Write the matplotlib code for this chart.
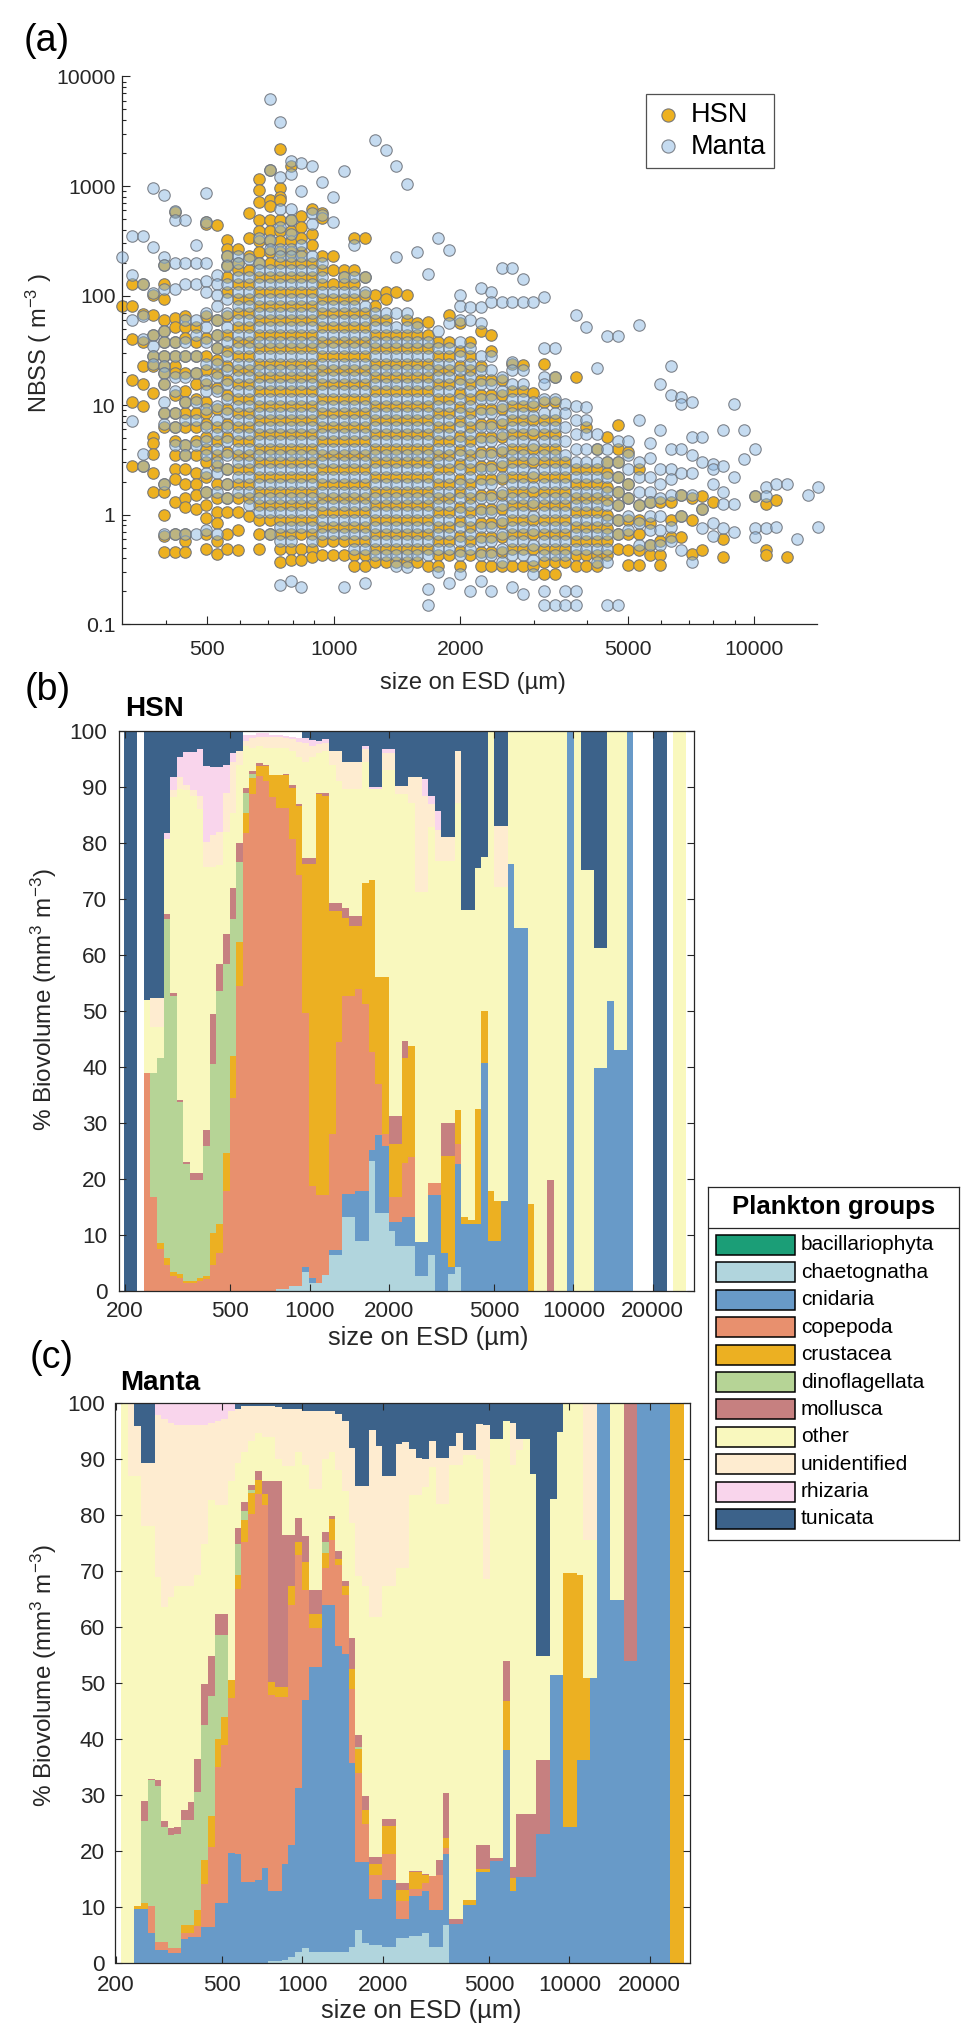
import numpy as np
import matplotlib.pyplot as plt
from matplotlib.patches import Rectangle
from matplotlib.ticker import LogLocator, NullFormatter, NullLocator

plt.rcParams['font.family'] = ['Liberation Sans', 'DejaVu Sans']
plt.rcParams['mathtext.fontset'] = 'custom'
plt.rcParams['mathtext.rm'] = 'Liberation Sans'
plt.rcParams['mathtext.default'] = 'regular'

W, H = 979, 2041
INK = '#262626'

# size classes (ESD, um): lower edges of the 86 bins + last upper edge
size_edges = [198, 209, 222, 235, 249, 264, 280, 296, 314, 332,
              352, 373, 395, 419, 444, 470, 498, 528, 559, 592,
              628, 665, 705, 746, 791, 838, 888, 940, 996, 1056,
              1118, 1185, 1255, 1330, 1409, 1493, 1582, 1676, 1775, 1881,
              1993, 2111, 2237, 2370, 2511, 2660, 2818, 2986, 3163, 3351,
              3551, 3762, 3986, 4223, 4474, 4740, 5022, 5320, 5637, 5972,
              6327, 6703, 7102, 7524, 7971, 8445, 8948, 9480, 10044, 10641,
              11274, 11944, 12654, 13407, 14204, 15049, 15943, 16892, 17896, 18960,
              20088, 21282, 22548, 23889, 25306, 26810, 28404]

# ---- panel (a): NBSS per size class, one list per class (classes start at size_edges[8])
hsn_nbss = [
    [80],
    [129, 80, 40, 16.8, 10.7, 2.8],
    [129, 68, 38, 23, 15.6, 9.9, 2.8],
    [102, 66, 44, 28, 23, 12.9, 5.1, 4.5, 3.6, 2.4, 1.6],
    [192, 129, 94, 60, 48, 38, 28, 23, 19.5, 15.6, 8.5, 6.3, 1.9, 1.6, 1.0, 0.64, 0.46],
    [583, 62, 52, 38, 28, 23, 19.5, 12.4, 8.5, 6.3, 4.7, 3.5, 2.6, 2.1, 1.31, 0.67, 0.46],
    [65, 52, 41, 28, 19.5, 13.4, 10.7, 8.5, 6.3, 4.3, 3.5, 2.6, 1.9, 1.41, 1.17, 0.67, 0.57, 0.46],
    [52, 38, 28, 19.5, 15.6, 11.5, 8.5, 6.3, 4.7, 3.5, 2.4, 1.9, 1.5, 1.13],
    [472, 455, 65, 41, 28, 21, 15.6, 10.7, 8.5, 6.8, 5.1, 4.0, 3.0, 2.2, 1.6, 1.22, 0.94, 0.67, 0.49],
    [438, 60, 44, 33, 26, 19.5, 14.4, 9.2, 6.3, 4.7, 3.5, 2.8, 1.9, 1.41, 1.05, 0.84, 0.57, 0.44],
    [324, 269, 232, 192, 148, 109, 65, 44, 31, 23, 16.8, 12.4, 9.2, 6.8, 5.1, 3.7, 2.6, 1.9, 1.41, 1.05, 0.67, 0.49],
    [269, 199, 172, 127, 94, 70, 52, 38, 28, 21, 15.6, 11.5, 8.5, 6.3, 4.7, 3.5, 2.6, 1.9, 1.41, 1.05, 0.72, 0.48],
    [570, 337, 232, 172, 127, 94, 70, 52, 38, 28, 21, 15.6, 11.5, 8.5, 6.3, 4.7, 3.5, 2.6, 1.9, 1.41, 0.97],
    [1160, 928, 713, 491, 392, 313, 250, 199, 148, 109, 81, 60, 44, 33, 24, 18, 13.4, 9.9, 7.4, 5.4, 4.0, 3.0, 2.2, 1.6, 1.22, 0.90, 0.67, 0.49],
    [1400, 741, 662, 491, 392, 313, 250, 199, 148, 109, 81, 60, 44, 33, 24, 18, 13.4, 9.9, 7.4, 5.4, 4.0, 3.0, 2.2, 1.6, 1.22, 0.90, 0.67],
    [2200, 963, 798, 741, 491, 392, 313, 250, 199, 148, 109, 81, 60, 44, 33, 24, 18, 13.4, 9.9, 7.4, 5.4, 4.0, 3.0, 2.2, 1.6, 1.22, 0.90, 0.67, 0.49, 0.37],
    [1510, 491, 392, 313, 250, 199, 148, 109, 81, 60, 44, 33, 24, 18, 13.4, 9.9, 7.4, 5.4, 4.0, 3.0, 2.2, 1.6, 1.22, 0.90, 0.67, 0.49, 0.39],
    [528, 422, 337, 250, 199, 148, 109, 81, 60, 44, 33, 24, 18, 13.4, 9.9, 7.4, 5.4, 4.0, 3.0, 2.2, 1.6, 1.22, 0.90, 0.67, 0.49, 0.39],
    [614, 363, 290, 199, 148, 109, 81, 60, 44, 33, 24, 18, 13.4, 9.9, 7.4, 5.4, 4.0, 3.0, 2.2, 1.6, 1.22, 0.90, 0.67, 0.49, 0.41],
    [570, 509, 232, 172, 127, 94, 70, 52, 38, 28, 21, 15.6, 11.5, 8.5, 6.3, 4.7, 3.5, 2.6, 1.9, 1.41, 1.05, 0.78, 0.57, 0.43],
    [232, 172, 127, 94, 70, 52, 38, 28, 21, 15.6, 11.5, 8.5, 6.3, 4.7, 3.5, 2.6, 1.9, 1.41, 1.05, 0.78, 0.57, 0.43],
    [172, 148, 127, 94, 70, 52, 38, 28, 21, 15.6, 11.5, 8.5, 6.3, 4.7, 3.5, 2.6, 1.9, 1.41, 1.05, 0.78, 0.57, 0.43],
    [337, 172, 127, 94, 70, 52, 38, 28, 21, 15.6, 11.5, 8.5, 6.3, 4.7, 3.5, 2.6, 1.9, 1.41, 1.05, 0.78, 0.57, 0.43, 0.34],
    [337, 148, 102, 70, 52, 38, 28, 21, 15.6, 11.5, 8.5, 6.3, 4.7, 3.5, 2.6, 1.9, 1.41, 1.05, 0.78, 0.57, 0.43, 0.34],
    [102, 81, 60, 44, 33, 24, 18, 13.4, 9.9, 7.4, 5.4, 4.0, 3.0, 2.2, 1.6, 1.22, 0.90, 0.67, 0.49, 0.37],
    [109, 94, 60, 44, 33, 24, 18, 13.4, 9.9, 7.4, 5.4, 4.0, 3.0, 2.2, 1.6, 1.22, 0.90, 0.67, 0.49, 0.37],
    [109, 44, 33, 24, 18, 13.4, 9.9, 7.4, 5.4, 4.0, 3.0, 2.2, 1.6, 1.22, 0.90, 0.67, 0.49, 0.37],
    [102, 60, 44, 33, 24, 18, 13.4, 9.9, 7.4, 5.4, 4.0, 3.0, 2.2, 1.6, 1.22, 0.90, 0.67, 0.49, 0.37],
    [56, 44, 33, 24, 18, 13.4, 9.9, 7.4, 5.4, 4.0, 3.0, 2.2, 1.6, 1.22, 0.90, 0.67, 0.49, 0.37],
    [58, 44, 33, 24, 18, 13.4, 9.9, 7.4, 5.4, 4.0, 3.0, 2.2, 1.6, 1.22, 0.90, 0.67, 0.49, 0.34],
    [38, 28, 21, 15.6, 11.5, 8.5, 6.3, 4.7, 3.5, 2.6, 1.9, 1.41, 1.05, 0.78, 0.57, 0.43, 0.34],
    [67, 38, 28, 21, 15.6, 11.5, 8.5, 6.3, 4.7, 3.5, 2.6, 1.9, 1.41, 1.05, 0.78, 0.57, 0.43],
    [56, 31, 23, 17.4, 12.9, 9.6, 7.1, 5.2, 3.9, 2.9, 2.1, 1.6, 1.17, 0.87, 0.64, 0.47, 0.34],
    [38, 28, 21, 15.6, 11.5, 8.5, 6.3, 4.7, 3.5, 2.6, 1.9, 1.41, 1.05, 0.78, 0.57, 0.43],
    [48, 23, 16.8, 12.4, 9.2, 6.8, 5.1, 3.7, 2.8, 2.1, 1.5, 1.13, 0.84, 0.62, 0.46, 0.34],
    [44, 31, 16.8, 12.4, 9.2, 6.8, 5.1, 3.7, 2.8, 2.1, 1.5, 1.13, 0.84, 0.62, 0.46, 0.34],
    [16.8, 12.4, 9.2, 6.8, 5.1, 3.7, 2.8, 2.1, 1.5, 1.13, 0.84, 0.62, 0.46, 0.34],
    [24, 13.4, 9.9, 7.4, 5.4, 4.0, 3.0, 2.2, 1.6, 1.22, 0.90, 0.67, 0.49, 0.34],
    [23.5, 13.4, 9.9, 7.4, 5.4, 4.0, 3.0, 2.2, 1.6, 1.22, 0.90, 0.67, 0.49, 0.34],
    [12.9, 9.9, 7.4, 5.4, 4.0, 3.0, 2.2, 1.6, 1.22, 0.90, 0.67, 0.49, 0.34],
    [24, 10.7, 7.4, 5.4, 4.0, 3.0, 2.2, 1.6, 1.22, 0.90, 0.67, 0.49, 0.37, 0.29],
    [18, 10.7, 7.4, 5.4, 4.0, 3.0, 2.2, 1.6, 1.22, 0.90, 0.67, 0.49, 0.37, 0.29],
    [3.0, 2.2, 1.6, 1.22, 0.90, 0.67, 0.49, 0.37],
    [18, 2.6, 1.9, 1.41, 1.05, 0.78, 0.57, 0.43, 0.34],
    [6.3, 2.6, 1.9, 1.41, 1.05, 0.78, 0.57, 0.43, 0.34],
    [4.0, 2.6, 1.9, 1.41, 1.05, 0.78, 0.57, 0.43, 0.34],
    [5.1, 3.0, 2.4, 1.8, 1.36, 1.0, 0.75, 0.57, 0.43],
    [6.6, 4.0, 3.0, 2.2, 1.6, 1.22, 0.90, 0.67, 0.49],
    [3.7, 1.9, 1.41, 0.90, 0.67, 0.48, 0.35],
    [2.6, 1.22, 0.90, 0.67, 0.48, 0.35],
    [1.31, 0.84, 0.53, 0.43],
    [1.31, 0.57, 0.43, 0.35],
    [1.31, 0.90, 0.62],
    [1.5, 0.97, 0.62],
    [1.41, 0.90, 0.44],
    [1.47, 1.13, 0.48],
    [1.31],
    [0.60, 0.41],
    [],
    [],
    [1.47],
    [1.26, 0.48, 0.43],
    [1.36],
    [0.41],
    [],
    [],
    [],
]

manta_nbss = [
    [223],
    [350, 153, 60, 7.1],
    [350, 129, 65, 40, 3.6, 2.8],
    [963, 275, 105, 44, 35, 28, 24],
    [829, 223, 192, 114, 48, 38, 28, 23, 19.5, 15.6, 10.7, 8.5, 6.8, 1.9, 0.67],
    [592, 491, 199, 114, 38, 28, 18, 13.4, 8.5, 6.3, 4.3, 0.67],
    [491, 199, 127, 60, 38, 28, 18, 10.7, 7.4, 4.3, 3.5, 0.67],
    [290, 199, 127, 60, 44, 28, 19.5, 10.7, 7.4, 4.3, 0.67],
    [861, 472, 199, 137, 109, 70, 52, 38, 24, 16.8, 13.4, 9.2, 6.3, 4.7, 3.5, 2.4, 1.6, 0.72],
    [153, 127, 102, 81, 60, 44, 33, 24, 18, 13.4, 9.9, 7.4, 5.4, 4.0, 3.0, 2.4, 1.6, 0.67],
    [232, 185, 127, 94, 70, 52, 38, 28, 21, 15.6, 11.5, 8.5, 6.3, 4.7, 3.5, 2.6, 1.9, 1.41],
    [232, 199, 148, 109, 81, 60, 44, 33, 24, 18, 13.4, 9.9, 7.4, 5.4, 4.0, 3.0, 2.2, 1.6],
    [215, 148, 109, 81, 60, 44, 33, 24, 18, 13.4, 9.9, 7.4, 5.4, 4.0, 3.0, 2.2, 1.6, 1.22],
    [337, 199, 172, 127, 94, 70, 52, 38, 28, 21, 15.6, 11.5, 8.5, 6.3, 4.7, 3.5, 2.6, 1.9, 1.41, 1.05],
    [6280, 1400, 324, 269, 172, 127, 94, 70, 52, 38, 28, 21, 15.6, 11.5, 8.5, 6.3, 4.7, 3.5, 2.6, 1.9, 1.41, 1.05, 0.67],
    [3860, 1210, 614, 422, 269, 232, 172, 127, 94, 70, 52, 38, 28, 21, 15.6, 11.5, 8.5, 6.3, 4.7, 3.5, 2.6, 1.9, 1.41, 1.05, 0.78, 0.57, 0.23],
    [1690, 1300, 614, 491, 363, 269, 232, 172, 127, 94, 70, 52, 38, 28, 21, 15.6, 11.5, 8.5, 6.3, 4.7, 3.5, 2.6, 1.9, 1.41, 1.05, 0.78, 0.57, 0.25],
    [1630, 893, 290, 232, 172, 127, 94, 70, 52, 38, 28, 21, 15.6, 11.5, 8.5, 6.3, 4.7, 3.5, 2.6, 1.9, 1.41, 1.05, 0.78, 0.22],
    [1510, 570, 455, 232, 172, 127, 94, 70, 52, 38, 28, 21, 15.6, 11.5, 8.5, 6.3, 4.7, 3.5, 2.6, 1.9, 1.41, 1.05, 0.78, 0.57],
    [1080, 548, 199, 148, 109, 81, 60, 44, 33, 24, 18, 13.4, 9.9, 7.4, 5.4, 4.0, 3.0, 2.2, 1.6, 1.22, 0.90, 0.67],
    [798, 472, 109, 81, 60, 44, 33, 24, 18, 13.4, 9.9, 7.4, 5.4, 4.0, 3.0, 2.2, 1.6, 1.22, 0.90, 0.67],
    [1380, 148, 109, 81, 60, 44, 33, 24, 18, 13.4, 9.9, 7.4, 5.4, 4.0, 3.0, 2.2, 1.6, 1.22, 0.90, 0.67, 0.22],
    [290, 148, 109, 81, 60, 44, 33, 24, 18, 13.4, 9.9, 7.4, 5.4, 4.0, 3.0, 2.2, 1.6, 1.22, 0.90, 0.67, 0.49],
    [148, 109, 81, 60, 44, 33, 24, 18, 13.4, 9.9, 7.4, 5.4, 4.0, 3.0, 2.2, 1.6, 1.22, 0.90, 0.67, 0.49, 0.24],
    [2650, 70, 52, 38, 28, 21, 15.6, 11.5, 8.5, 6.3, 4.7, 3.5, 2.6, 1.9, 1.41, 1.05, 0.78, 0.57, 0.43],
    [2120, 70, 52, 38, 28, 21, 15.6, 11.5, 8.5, 6.3, 4.7, 3.5, 2.6, 1.9, 1.41, 1.05, 0.78, 0.57, 0.43],
    [1510, 223, 70, 52, 38, 28, 21, 15.6, 11.5, 8.5, 6.3, 4.7, 3.5, 2.6, 1.9, 1.41, 1.05, 0.78, 0.57, 0.43, 0.34],
    [1040, 70, 52, 38, 28, 21, 15.6, 11.5, 8.5, 6.3, 4.7, 3.5, 2.6, 1.9, 1.41, 1.05, 0.78, 0.57, 0.43, 0.33],
    [250, 52, 38, 28, 21, 15.6, 11.5, 8.5, 6.3, 4.7, 3.5, 2.6, 1.9, 1.41, 1.05, 0.78, 0.57, 0.43],
    [159, 38, 28, 21, 15.6, 11.5, 8.5, 6.3, 4.7, 3.5, 2.6, 1.9, 1.41, 1.05, 0.78, 0.57, 0.43, 0.21, 0.15],
    [337, 48, 33, 24, 18, 13.4, 9.9, 7.4, 5.4, 4.0, 3.0, 2.2, 1.6, 1.22, 0.90, 0.67, 0.49, 0.30],
    [259, 56, 33, 24, 18, 13.4, 9.9, 7.4, 5.4, 4.0, 3.0, 2.2, 1.6, 1.22, 0.90, 0.67, 0.49, 0.24],
    [102, 81, 60, 38, 28, 21, 15.6, 11.5, 8.5, 6.3, 4.7, 3.5, 2.6, 1.9, 1.41, 1.05, 0.78, 0.57, 0.43, 0.29],
    [78, 60, 33, 24, 18, 13.4, 9.9, 7.4, 5.4, 4.0, 3.0, 2.2, 1.6, 1.22, 0.90, 0.67, 0.49, 0.20],
    [118, 78, 56, 28, 21, 15.6, 11.5, 8.5, 6.3, 4.7, 3.5, 2.6, 1.9, 1.41, 1.05, 0.78, 0.57, 0.43, 0.25],
    [109, 87, 28, 21, 15.6, 11.5, 8.5, 6.3, 4.7, 3.5, 2.6, 1.9, 1.41, 1.05, 0.78, 0.57, 0.43, 0.20],
    [178, 87, 18, 13.4, 9.9, 7.4, 5.4, 4.0, 3.0, 2.2, 1.6, 1.22, 0.90, 0.67, 0.49, 0.37],
    [178, 87, 25, 21, 15.6, 11.5, 8.5, 6.3, 4.7, 3.5, 2.6, 1.9, 1.41, 1.05, 0.78, 0.57, 0.43, 0.22],
    [142, 87, 21, 15.6, 11.5, 8.5, 6.3, 4.7, 3.5, 2.6, 1.9, 1.41, 1.05, 0.78, 0.57, 0.43, 0.19],
    [87, 10.7, 7.9, 5.9, 4.3, 3.2, 2.4, 1.8, 1.31, 0.97, 0.72, 0.53, 0.39, 0.29],
    [98, 33, 18, 15.6, 11.5, 8.5, 6.3, 4.7, 3.5, 2.6, 1.9, 1.41, 1.05, 0.78, 0.57, 0.43, 0.20, 0.15],
    [33, 18, 11.5, 8.5, 6.3, 4.7, 3.5, 2.6, 1.9, 1.41, 1.05, 0.78, 0.57, 0.43, 0.15],
    [10.3, 8.5, 6.3, 4.7, 3.5, 2.6, 1.9, 1.41, 1.05, 0.78, 0.57, 0.43, 0.20, 0.15],
    [66, 9.9, 7.4, 5.4, 4.0, 3.0, 2.2, 1.6, 1.22, 0.90, 0.67, 0.49, 0.20, 0.15],
    [52, 9.6, 7.4, 5.4, 4.0, 3.0, 2.2, 1.6, 1.22, 0.90, 0.67, 0.49],
    [22, 5.4, 4.0, 3.0, 2.2, 1.6, 1.22, 0.90, 0.67, 0.49, 0.37],
    [43, 4.0, 3.0, 2.2, 1.6, 1.22, 0.90, 0.67, 0.49, 0.37, 0.15],
    [43, 4.7, 3.0, 2.2, 1.6, 1.22, 0.90, 0.67, 0.15],
    [4.7, 3.5, 2.6, 1.9, 1.41, 0.97, 0.72],
    [54, 7.4, 3.0, 2.2, 1.6, 1.22, 0.84, 0.53],
    [4.5, 3.3, 2.2, 1.6, 1.31, 0.97, 0.72, 0.53],
    [15.6, 5.9, 2.6, 1.9, 1.41, 0.97, 0.72, 0.53],
    [23, 12.4, 4.0, 2.6, 2.1, 1.5, 0.78, 0.57],
    [12, 10.3, 4.0, 2.4, 1.5, 0.97, 0.48],
    [10.7, 5.1, 3.5, 2.4, 1.5, 0.37],
    [5.1, 3.0, 1.13, 0.75],
    [2.9, 2.6, 1.9, 0.84, 0.64],
    [5.9, 2.8, 1.6, 1.26, 0.75],
    [10.3, 2.2, 1.26, 0.69],
    [5.9, 3.2],
    [4.0, 1.47, 0.75, 0.62],
    [1.8, 1.47, 0.75],
    [1.9, 0.78],
    [1.9],
    [0.60],
    [1.5],
    [1.8, 0.78],
]

# ---- panels (b) and (c): % biovolume per size bin (86 bins)
group_names = ['bacillariophyta', 'chaetognatha', 'cnidaria', 'copepoda', 'crustacea',
               'dinoflagellata', 'mollusca', 'other', 'unidentified', 'rhizaria', 'tunicata']
group_colors = ['#1B9E77', '#B1D5DD', '#689AC8', '#E8906E', '#ECB022',
                '#B6D496', '#C68080', '#F9F8BE', '#FEECD0', '#F9D5EC', '#3C628A']
# bacillariophyta: no biovolume in either net

hsn_chaetognatha = [
    0, 0, 0, 0, 0, 0, 0, 0, 0, 0,
    0, 0, 0, 0, 0, 0, 0, 0, 0, 0,
    0, 0, 0, 0.4, 0.4, 0.9, 0.9, 3.4, 1.5, 1.5,
    2.8, 6.5, 6.5, 13.3, 13.3, 9.0, 9.0, 23.2, 14, 14,
    10.7, 8, 8, 8, 2.7, 2.7, 6.4, 0, 0, 3,
    4.2, 0, 0, 0, 0, 0, 0, 0, 0, 0,
    0, 0, 0, 0, 0, 0, 0, 0, 0, 0,
    0, 0, 0, 0, 0, 0, 0, 0, 0, 0,
    0, 0, 0, 0, 0, 0]
hsn_cnidaria = [
    0, 0, 0, 0, 0, 0, 0, 0, 0, 0,
    0, 0, 0, 0, 0, 0, 0, 0, 0, 0,
    0, 0, 0, 0, 0, 0, 0, 0.8, 0.9, 0,
    0, 0.8, 0.8, 4.0, 4.0, 8.9, 8.9, 2.0, 13.9, 11.9,
    1.6, 4.3, 5.3, 5.3, 6, 6, 10.7, 17.1, 6.7, 1.2,
    18.4, 12, 12, 12, 40.8, 9.0, 9.0, 16.1, 76.2, 64.9,
    64.9, 0, 0, 0, 0, 0, 0, 100, 0, 0,
    0, 39.8, 39.8, 51.8, 43.1, 43.1, 100, 0, 0, 0,
    0, 0, 0, 0, 0, 0]
hsn_copepoda = [
    0, 0, 0, 39, 16.7, 7.5, 4.7, 2.7, 2.4, 1.5,
    1.5, 1.7, 2.1, 4.7, 6.7, 17.9, 34.5, 54.5, 81.8, 88.7,
    91.9, 91.1, 88.3, 85.9, 85.9, 79.8, 73.4, 45.5, 16.4, 15.6,
    14.3, 20.7, 37.1, 35.4, 35.4, 36, 33.3, 17.4, 9, 2.1,
    4.5, 4.5, 9.6, 10.6, 0, 0, 2.2, 2.2, 0, 0,
    3.6, 0, 0, 0, 0, 0, 0, 0, 0, 0,
    0, 0, 0, 0, 0, 0, 0, 0, 0, 0,
    0, 0, 0, 0, 0, 0, 0, 0, 0, 0,
    0, 0, 0, 0, 0, 0]
hsn_crustacea = [
    0, 0, 0, 0, 0, 1.0, 1.2, 0.7, 0.6, 0.2,
    0.2, 0.7, 0.6, 5.6, 5.3, 6.7, 7.4, 7.8, 3.6, 2.9,
    1.8, 2.6, 3.8, 5.8, 5.8, 9.2, 12.3, 26.6, 57.5, 71.6,
    71.3, 39.9, 23.5, 13.9, 12.4, 11.2, 21.7, 30.8, 19.1, 28,
    9.5, 9.5, 18.7, 19.8, 0, 0, 0, 0, 17.4, 19.9,
    6.1, 1.3, 0.6, 20.5, 9.2, 8.9, 7.1, 0, 0, 0,
    0, 15.6, 0, 0, 0, 0, 0, 0, 0, 0,
    0, 0, 0, 0, 0, 0, 0, 0, 0, 0,
    0, 0, 0, 0, 0, 0]
hsn_dinoflagellata = [
    0, 0, 0, 0, 22.3, 33.1, 60.5, 49.3, 30.7, 20.9,
    18.2, 17.5, 23.2, 30.3, 41.5, 33.8, 24.5, 14.3, 3.5, 0.8,
    0, 0, 0, 0, 0, 0, 0, 0, 0, 0,
    0, 0, 0, 0, 0, 0, 0, 0, 0, 0,
    0, 0, 0, 0, 0, 0, 0, 0, 0, 0,
    0, 0, 0, 0, 0, 0, 0, 0, 0, 0,
    0, 0, 0, 0, 0, 0, 0, 0, 0, 0,
    0, 0, 0, 0, 0, 0, 0, 0, 0, 0,
    0, 0, 0, 0, 0, 0]
hsn_mollusca = [
    0, 0, 0, 0, 0, 0, 1.0, 0.5, 0.4, 0.5,
    1.2, 1.2, 2.8, 8.9, 4.9, 5.4, 5.6, 3.4, 1.0, 0.5,
    0.5, 0.3, 0, 0, 0.3, 0.4, 0.3, 1.0, 1.0, 0.3,
    0.5, 1.3, 1.3, 1.8, 1.8, 1.8, 0, 0, 0, 0,
    5, 5, 3.1, 0, 0, 0, 0, 0, 5.9, 5.9,
    0, 0, 0, 0, 0, 0, 0, 0, 0, 0,
    0, 0, 0, 0, 19.9, 0, 0, 0, 0, 0,
    0, 0, 0, 0, 0, 0, 0, 0, 0, 0,
    0, 0, 0, 0, 0, 0]
hsn_other = [
    0, 0, 0, 12.9, 8.1, 5.5, 13.4, 35.1, 55.6, 66.3,
    67.3, 65.0, 47.1, 26.3, 17.6, 18.2, 13.4, 14, 7.5, 4.1,
    3.2, 3, 4.9, 4.9, 4.6, 6.2, 8.5, 17.2, 18, 7,
    7.6, 24.8, 21.8, 21.2, 22.7, 22.7, 21.5, 16.2, 33.6, 37.1,
    61.8, 57.4, 44, 43.5, 62.5, 62.5, 63.5, 57.4, 46.7, 46.7,
    54.8, 54.7, 55.4, 43, 27.5, 82.1, 56.1, 56.1, 23.8, 35.1,
    35.1, 84.4, 100, 100, 80.1, 100, 100, 0, 100, 75.2,
    75.2, 21.4, 21.4, 48.2, 56.9, 56.9, 0, 0, 0, 0,
    0, 0, 0, 100, 100, 0]
hsn_unidentified = [
    0, 0, 0, 0, 5.2, 5.2, 0, 1.1, 2.0, 1.0,
    1.0, 2.3, 4.3, 5.7, 6, 7, 9, 2.4, 0.9, 1.7,
    1.6, 2, 2, 2, 1.8, 2.1, 2.6, 3.3, 2.1, 1.7,
    1.3, 2.4, 5.4, 4.8, 4.8, 4.8, 2.3, 0, 0, 2.9,
    2.9, 1.4, 1.4, 4.5, 20.5, 17.2, 4.1, 5.6, 4.4, 4.4,
    9.3, 0, 0, 0, 0, 0, 10.8, 10.8, 0, 0,
    0, 0, 0, 0, 0, 0, 0, 0, 0, 0,
    0, 0, 0, 0, 0, 0, 0, 0, 0, 0,
    0, 0, 0, 0, 0, 0]
hsn_rhizaria = [
    0, 0, 0, 0, 0, 0, 1.0, 2.3, 3.7, 5.8,
    6.8, 8.4, 13.6, 12.0, 11.5, 5, 1.6, 0, 0.9, 0.5,
    0.6, 0.6, 0.3, 0.3, 0.3, 0.3, 0.8, 0.9, 1.0, 0.6,
    0.7, 0, 0, 0, 0, 0, 0.7, 0.4, 0.4, 0.7,
    0.7, 0, 0, 0, 0, 3, 1.5, 3.5, 0, 0,
    0, 0, 0, 0, 0, 0, 0, 0, 0, 0,
    0, 0, 0, 0, 0, 0, 0, 0, 0, 0,
    0, 0, 0, 0, 0, 0, 0, 0, 0, 0,
    0, 0, 0, 0, 0, 0]
hsn_tunicata = [
    100, 100, 0, 48.1, 47.7, 47.7, 18.2, 8.3, 4.6, 3.8,
    3.8, 3.2, 6.3, 6.5, 6.5, 6, 4, 3.6, 0, 0,
    0, 0, 0, 0, 0, 0, 0, 1.3, 1.6, 1.7,
    1.5, 3.6, 3.6, 5.6, 5.6, 5.6, 2.6, 10, 10, 3.3,
    3.3, 9.9, 9.9, 8.3, 8.3, 8.6, 11.6, 14.2, 18.9, 18.9,
    3.6, 32, 32, 24.5, 22.5, 0, 17, 17, 0, 0,
    0, 0, 0, 0, 0, 0, 0, 0, 0, 24.8,
    24.8, 38.8, 38.8, 0, 0, 0, 0, 0, 0, 0,
    100, 100, 0, 0, 0, 0]

manta_chaetognatha = [
    0, 0, 0, 0, 0, 0, 0, 0, 0, 0,
    0, 0, 0, 0, 0, 0, 0, 0, 0, 0,
    0, 0, 0, 0.3, 0.3, 0.5, 1.0, 2.0, 2.6, 2.0,
    2.0, 2.0, 2.0, 2.0, 2.0, 2.8, 5.9, 3.6, 3.2, 3.2,
    2.8, 2.8, 4.4, 4.4, 4.8, 4.8, 5.4, 2.8, 2.8, 6.7,
    0, 0, 0, 0, 0, 0, 0, 0, 0, 0,
    0, 0, 0, 0, 0, 0, 0, 0, 0, 0,
    0, 0, 0, 0, 0, 0, 0, 0, 0, 0,
    0, 0, 0, 0, 0, 0]
manta_cnidaria = [
    0, 0, 0, 9.7, 9.7, 5.4, 2.4, 2.4, 1.8, 1.8,
    4.3, 4.6, 4.6, 6.4, 6.4, 10.8, 10.8, 19.7, 19.4, 14.4,
    14.4, 14.8, 16.9, 12.5, 12.5, 17.2, 20, 29.3, 44.3, 50.9,
    50.9, 61.9, 61.9, 54.6, 53.2, 33, 12.2, 14.5, 8.2, 8.2,
    12, 12, 3.5, 3.5, 7.2, 7.2, 7.4, 6.7, 6.7, 12.7,
    7.0, 7.0, 10.3, 10.3, 16.2, 16.2, 18.2, 18.2, 38.1, 12.8,
    15.4, 15.4, 15.4, 23, 23, 51.5, 51.5, 24.3, 24.3, 36.3,
    36.3, 50.9, 100, 100, 64.9, 64.9, 54, 54, 100, 100,
    100, 100, 100, 0, 0, 0]
manta_copepoda = [
    0, 0, 0, 0, 0, 4.8, 1.3, 1.3, 0.8, 0.8,
    1.0, 0.7, 2.0, 7.7, 14.4, 24.2, 28.2, 27.7, 47.4, 60.8,
    65.7, 69, 64.8, 35.1, 34.7, 29.8, 43, 41.6, 19.7, 7,
    7, 6.7, 11.6, 14.4, 10.5, 13.1, 15.8, 6.8, 4.4, 4.4,
    4.6, 4.6, 3.1, 3.1, 1.3, 1.3, 1.4, 6.1, 6.3, 1.2,
    0, 0, 0, 0, 0, 0, 0, 0, 0, 0,
    0, 0, 0, 0, 0, 0, 0, 0, 0, 0,
    0, 0, 0, 0, 0, 0, 0, 0, 0, 0,
    0, 0, 0, 0, 0, 0]
manta_crustacea = [
    0, 0, 0, 0.5, 1.1, 0, 0, 0, 0, 0,
    1.4, 1.4, 2.9, 4.3, 5.5, 5, 4.9, 3.1, 2.5, 3.9,
    3.9, 2.5, 2.1, 2.3, 1.7, 1.7, 3.3, 2.3, 5, 2.5,
    2.5, 2.6, 3.8, 1.2, 1.6, 3.6, 4.3, 2.4, 1.8, 1.8,
    5.1, 5.1, 2, 2, 3, 3, 1.5, 0, 0, 1.8,
    0, 0, 1, 1, 0.5, 0.5, 0, 0, 8.6, 2.3,
    0, 0, 0, 0, 0, 0, 0, 45.4, 45.4, 32.9,
    14.6, 0, 0, 0, 0, 0, 0, 0, 0, 0,
    0, 0, 0, 100, 100, 0]
manta_dinoflagellata = [
    0, 0, 0, 0, 14.5, 22.4, 27.9, 20.6, 20.3, 20.4,
    18.8, 18.8, 21.1, 24.1, 21.3, 18.5, 14.6, 0, 5.6, 1.7,
    0.5, 0, 0, 0, 0, 0, 0, 0, 0, 0,
    0, 2, 0, 0, 0, 0, 0.4, 0, 0, 0,
    0, 0, 0, 0, 0, 0, 0, 0, 0, 0,
    0, 0, 0, 0, 0, 0, 0, 0, 0, 0,
    0, 0, 0, 0, 0, 0, 0, 0, 0, 0,
    0, 0, 0, 0, 0, 0, 0, 0, 0, 0,
    0, 0, 0, 0, 0, 0]
manta_mollusca = [
    0, 0, 0, 0, 3.6, 0.3, 1.0, 1.0, 1.2, 1.2,
    1.9, 3.3, 5.8, 7.4, 7.2, 3.9, 3.9, 0, 2.8, 1.5,
    0.8, 1.5, 2.3, 35.9, 36.9, 27.3, 9.2, 4.2, 4.6, 4.2,
    4.2, 1.7, 0.6, 1.3, 1.0, 5.6, 2.1, 2.5, 1.3, 1.3,
    1.2, 1.2, 1.2, 1.2, 0.1, 0.1, 0.2, 0, 2.6, 8,
    0.9, 0.9, 0, 0, 4.3, 4.3, 0.5, 0.5, 7.3, 2.1,
    11.2, 11.2, 11.2, 13.3, 13.3, 0, 0, 0, 0, 0,
    0, 0, 0, 0, 0, 0, 46, 46, 0, 0,
    0, 0, 0, 0, 0, 0]
manta_other = [
    0, 100, 87, 76.8, 49.2, 45.2, 36.3, 38.2, 41.3, 43.1,
    39.9, 38.5, 32.9, 25, 27.9, 19.3, 19.3, 35.5, 11.6, 9,
    7.9, 6.8, 7.8, 7.8, 3.9, 12.3, 12.3, 11.9, 12.8, 18.1,
    18.1, 13.1, 11.4, 14.5, 15.9, 20.4, 28.4, 37.5, 42.8, 42.8,
    41.6, 41.6, 56.4, 56.4, 67.2, 67.2, 69.1, 73, 63.5, 51.5,
    81.1, 81.1, 79.4, 79.4, 69, 47.6, 74.9, 74.9, 42.8, 71.8,
    65, 67, 60.7, 18.5, 18.5, 31.4, 43.4, 30.3, 30.3, 30.8,
    24.6, 24.6, 0, 0, 35.1, 35.1, 0, 0, 0, 0,
    0, 0, 0, 0, 0, 0]
manta_unidentified = [
    0, 0, 13, 8.9, 11.2, 11.2, 28.9, 33.7, 31, 28.7,
    28.7, 28.7, 26.7, 21.2, 13.8, 15.1, 15.5, 12.5, 9.7, 8.2,
    6.3, 4.9, 5.6, 5.6, 9.3, 10.2, 10.2, 7.7, 9.5, 13.8,
    13.8, 8.5, 7.2, 10.1, 12.6, 13.4, 16.1, 17.9, 33.5, 30.6,
    19.7, 19.7, 22, 22.5, 8.2, 6.5, 5, 4.6, 8.2, 8.2,
    3.4, 5.6, 0.9, 0.9, 6.3, 27.4, 0, 0, 0, 7.5,
    2, 0, 0, 0, 0, 0, 0, 0, 0, 0,
    24.5, 24.5, 0, 0, 0, 0, 0, 0, 0, 0,
    0, 0, 0, 0, 0, 0]
manta_rhizaria = [
    0, 0, 0, 0, 0, 0, 2.2, 2.8, 3.5, 4,
    4, 4, 4, 3.9, 3.5, 3.2, 2.8, 1.5, 0, 0,
    0, 0, 0, 0, 0, 0, 0, 0, 0, 0,
    0, 0, 0, 0, 0, 0, 0, 0, 0, 0,
    0, 0, 0, 0, 0, 0, 0, 0, 0, 0,
    0, 0, 0, 0, 0, 0, 0, 0, 0, 0,
    0, 0, 0, 0, 0, 0, 0, 0, 0, 0,
    0, 0, 0, 0, 0, 0, 0, 0, 0, 0,
    0, 0, 0, 0, 0, 0]
manta_tunicata = [
    0, 0, 0, 4.1, 10.7, 10.7, 0, 0, 0, 0,
    0, 0, 0, 0, 0, 0, 0, 0, 1, 0.5,
    0.5, 0.5, 0.5, 0.5, 0.7, 1, 1, 1, 1.5, 1.5,
    1.5, 1.5, 1.5, 1.9, 3.2, 8.1, 14.8, 14.8, 4.8, 7.7,
    13, 13, 7.4, 6.9, 8.3, 10, 10, 6.8, 9.9, 9.9,
    7.6, 5.4, 8.4, 8.4, 3.7, 4, 6.4, 6.4, 3.2, 3.5,
    6.4, 6.4, 12.7, 45.2, 45.2, 17.1, 5.1, 0, 0, 0,
    0, 0, 0, 0, 0, 0, 0, 0, 0, 0,
    0, 0, 0, 0, 0, 0]

hsn_stack = [hsn_chaetognatha, hsn_cnidaria, hsn_copepoda, hsn_crustacea,
             hsn_dinoflagellata, hsn_mollusca, hsn_other, hsn_unidentified,
             hsn_rhizaria, hsn_tunicata]
manta_stack = [manta_chaetognatha, manta_cnidaria, manta_copepoda, manta_crustacea,
               manta_dinoflagellata, manta_mollusca, manta_other, manta_unidentified,
               manta_rhizaria, manta_tunicata]


def px_box(left, top, right, bottom):
    return [left / W, 1 - bottom / H, (right - left) / W, (bottom - top) / H]


def style_axis(ax, fs, xpad, ypad):
    for s in ax.spines.values():
        s.set_color(INK)
        s.set_linewidth(0.9)
    ax.tick_params(which='both', direction='in', colors=INK, labelsize=fs, width=0.8)
    ax.tick_params(axis='x', pad=xpad)
    ax.tick_params(axis='y', pad=ypad)


def stacked_bars(ax, stack):
    left = np.array(size_edges[:-1], float)
    width = np.diff(size_edges).astype(float)
    bottom = np.zeros(len(left))
    for vals, color in zip(stack, group_colors[1:]):
        v = np.array(vals, float)
        m = v > 0
        ax.bar(left[m], v[m], width[m], bottom=bottom[m], align='edge',
               color=color, linewidth=0, antialiased=False)
        bottom += v


fig = plt.figure(figsize=(W / 100, H / 100), dpi=100)

# ---------------- (a)
ax = fig.add_axes(px_box(122, 76.5, 817, 624.3))
ax.set_xscale('log')
ax.set_yscale('log')
hx, hy, mx, my = [], [], [], []
for x, col in zip(size_edges[8:], hsn_nbss):
    hx += [x] * len(col)
    hy += col
for x, col in zip(size_edges[8:], manta_nbss):
    mx += [x] * len(col)
    my += col
sc_h = ax.scatter(hx, hy, s=68, facecolor='#EDB120', edgecolor=(0.47, 0.47, 0.47),
                  linewidths=0.8, clip_on=False, zorder=2, label='HSN')
sc_m = ax.scatter(mx, my, s=68, facecolor=(0.55, 0.72, 0.89, 0.5),
                  edgecolor=(0.45, 0.47, 0.50, 0.9), linewidths=0.8,
                  clip_on=False, zorder=3, label='Manta')
ax.set_xlim(314, 14100)
ax.set_ylim(0.1, 10000)
ax.spines['top'].set_visible(False)
ax.spines['right'].set_visible(False)
style_axis(ax, 15.3, 11, 4.7)
ax.tick_params(which='major', length=6)
ax.tick_params(which='minor', length=3)
ax.set_xticks([500, 1000, 2000, 5000, 10000], labels=['500', '1000', '2000', '5000', '10000'])
ax.set_xticks([400, 600, 700, 800, 900, 3000, 4000, 6000, 7000, 8000, 9000], minor=True)
ax.xaxis.set_minor_formatter(NullFormatter())
ax.set_yticks([0.1, 1, 10, 100, 1000, 10000], labels=['0.1', '1', '10', '100', '1000', '10000'])
ax.yaxis.set_minor_locator(LogLocator(base=10, subs=np.arange(2, 10)))
ax.yaxis.set_minor_formatter(NullFormatter())
ax.set_xlabel('size on ESD (µm)', fontsize=17, color=INK)
ax.xaxis.set_label_coords(0.505, -0.107)
ax.xaxis.label.set_va('center')
ax.set_ylabel('NBSS ( m$^{-3}$ )', fontsize=17, color=INK)
ax.yaxis.set_label_coords(-0.119, 0.514)
ax.yaxis.label.set_va('center')
leg = ax.legend(handles=[sc_h, sc_m], loc='upper left',
                bbox_to_anchor=(646 / W, 1 - 94 / H), bbox_transform=fig.transFigure,
                fontsize=19.5, frameon=True, fancybox=False, borderpad=0.3,
                handlelength=1.0, handletextpad=0.35, labelspacing=0.2,
                borderaxespad=0, scatterpoints=1, markerscale=1.15)
leg.get_frame().set_edgecolor(INK)
leg.get_frame().set_linewidth(0.9)

# ---------------- (b) and (c)
panels = [
    (hsn_stack, px_box(118.6, 731, 694, 1291), (189, 28650), 'HSN', (125, 709),
     (0.539, -0.084), (-0.130, 0.520), 7.5, 8),
    (manta_stack, px_box(115.5, 1403, 690, 1963), (200, 28270), 'Manta', (120, 1383),
     (0.533, -0.086), (-0.125, 0.513), 8.5, 7.5),
]
for stack, box, xlim, title, tpos, xl, yl, xpad, ypad in panels:
    ax = fig.add_axes(box)
    ax.set_xscale('log')
    stacked_bars(ax, stack)
    ax.set_xlim(*xlim)
    ax.set_ylim(0, 100)
    style_axis(ax, 16.2, xpad, ypad)
    ax.tick_params(which='both', top=True, right=True, length=5)
    ax.set_xticks([200, 500, 1000, 2000, 5000, 10000, 20000],
                  labels=['200', '500', '1000', '2000', '5000', '10000', '20000'])
    ax.xaxis.set_minor_locator(NullLocator())
    ax.set_yticks(range(0, 101, 10))
    ax.set_xlabel('size on ESD (µm)', fontsize=18.4, color=INK)
    ax.xaxis.set_label_coords(*xl)
    ax.xaxis.label.set_va('center')
    ax.set_ylabel('% Biovolume (mm$^{3}$ m$^{-3}$)', fontsize=17.5, color=INK)
    ax.yaxis.set_label_coords(*yl)
    ax.yaxis.label.set_va('center')
    fig.text(tpos[0] / W, 1 - tpos[1] / H, title, fontsize=20, fontweight='bold',
             ha='left', va='center')

# panel letters
for lab, (lx, ly) in [('(a)', (24, 41)), ('(b)', (25, 690)), ('(c)', (30, 1358))]:
    fig.text(lx / W, 1 - ly / H, lab, fontsize=27, ha='left', va='center')

# ---------------- plankton groups legend
lg = fig.add_axes(px_box(708, 1187, 959, 1540))
lg.set_xlim(0, 251)
lg.set_ylim(353, 0)
lg.set_xticks([])
lg.set_yticks([])
for s in lg.spines.values():
    s.set_color(INK)
    s.set_linewidth(0.9)
lg.text(125.5, 20, 'Plankton groups', fontsize=18.5, fontweight='bold', ha='center', va='center')
lg.axhline(41, color=INK, lw=0.9)
for i, (name, color) in enumerate(zip(group_names, group_colors)):
    yc = 58 + 27.4 * i
    lg.add_patch(Rectangle((8, yc - 10), 79, 20, facecolor=color, edgecolor='black', lw=1.1))
    lg.text(93, yc, name, fontsize=15, ha='left', va='center')

fig.savefig('out.png', dpi=100)
